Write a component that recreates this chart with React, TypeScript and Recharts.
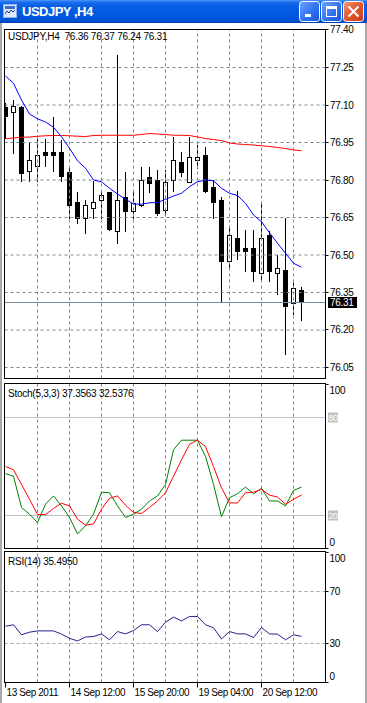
import React from 'react';
import { ComposedChart, Bar, Line, XAxis, YAxis, ReferenceLine } from 'recharts';

const FONT = "'Liberation Sans', Arial, sans-serif";

// ---------- data ----------
const candleIndex = [0, 1, 2, 3, 4, 5, 6, 7, 8, 9, 10, 11, 12, 13, 14, 15, 16, 17, 18, 19, 20, 21, 22, 23, 24, 25, 26, 27, 28, 29, 30, 31, 32, 33, 34, 35, 36, 37];
const opens = [77.093, 77.072, 77.092, 76.837, 76.857, 76.911, 76.911, 76.911, 76.831, 76.711, 76.647, 76.687, 76.719, 76.751, 76.597, 76.731, 76.677, 76.699, 76.812, 76.799, 76.68, 76.799, 76.871, 76.791, 76.879, 76.899, 76.771, 76.719, 76.477, 76.567, 76.527, 76.527, 76.427, 76.58, 76.427, 76.44, 76.307, 76.36];
const highs = [77.11, 77.12, 77.095, 76.953, 76.963, 76.963, 77.051, 76.96, 76.857, 76.751, 76.72, 76.797, 76.753, 76.753, 77.3, 76.831, 76.76, 76.852, 76.852, 76.84, 76.84, 76.972, 76.911, 76.972, 76.939, 76.931, 76.8, 76.731, 76.607, 76.757, 76.6, 76.6, 76.711, 76.597, 76.5, 76.647, 76.387, 76.37];
const lows = [76.967, 76.909, 76.797, 76.797, 76.797, 76.857, 76.837, 76.797, 76.647, 76.627, 76.587, 76.647, 76.647, 76.6, 76.547, 76.597, 76.647, 76.697, 76.751, 76.66, 76.664, 76.757, 76.817, 76.79, 76.847, 76.751, 76.647, 76.317, 76.443, 76.484, 76.437, 76.397, 76.397, 76.397, 76.344, 76.104, 76.264, 76.24];
const closes = [77.056, 77.097, 76.829, 76.879, 76.899, 76.899, 76.899, 76.817, 76.699, 76.647, 76.699, 76.711, 76.74, 76.604, 76.719, 76.677, 76.709, 76.799, 76.789, 76.667, 76.791, 76.879, 76.831, 76.891, 76.891, 76.757, 76.711, 76.477, 76.579, 76.517, 76.517, 76.437, 76.567, 76.437, 76.447, 76.297, 76.367, 76.31];
const maFast = [77.216, 77.187, 77.12, 77.064, 77.045, 77.032, 77.011, 76.973, 76.927, 76.877, 76.847, 76.8, 76.793, 76.767, 76.744, 76.723, 76.704, 76.703, 76.709, 76.71, 76.723, 76.736, 76.747, 76.773, 76.793, 76.8, 76.797, 76.767, 76.747, 76.738, 76.707, 76.66, 76.633, 76.589, 76.547, 76.507, 76.467, 76.451];
const maSlow = [76.965, 76.968, 76.971, 76.972, 76.975, 76.977, 76.978, 76.978, 76.977, 76.975, 76.974, 76.978, 76.979, 76.979, 76.979, 76.979, 76.979, 76.982, 76.986, 76.984, 76.982, 76.979, 76.979, 76.978, 76.972, 76.966, 76.962, 76.958, 76.948, 76.944, 76.942, 76.94, 76.937, 76.934, 76.93, 76.926, 76.92, 76.917];
const stochMain = [45.6, 44, 24.9, 20.8, 15.7, 26.9, 32, 25.9, 18.8, 8.7, 13.7, 20.8, 34.3, 33.9, 25.9, 18.8, 20.8, 23.9, 28.9, 32, 39, 60.2, 66.1, 66.1, 66.1, 56.2, 39, 19.2, 30.9, 33.3, 37.4, 33.3, 36.6, 28.9, 28.9, 25.9, 35.4, 37.36];
const stochSignal = [50, 48, 39, 29.9, 20.6, 20.6, 24.3, 27.5, 25.9, 17.8, 14.1, 14.8, 23.9, 30.5, 32, 26.3, 21.9, 21.2, 24.9, 28.9, 33.9, 44, 54.1, 63.6, 66.1, 62.2, 50, 36.9, 27.7, 27.7, 33.9, 34.3, 36, 32.5, 31.3, 26.9, 29.9, 32.54];
const rsiValues = [43.3, 44.4, 36.7, 38.7, 39.7, 39.7, 39.7, 37.2, 34, 32, 35, 35.4, 37.4, 32.8, 39.2, 37.4, 40, 44.4, 44.4, 39.2, 46.4, 50.3, 47.4, 50.8, 50.8, 44.4, 42.1, 33.5, 39.2, 37.4, 37.4, 34.6, 42.3, 37.4, 37.2, 32.8, 36.7, 35.5];

const priceTicks = [77.4, 77.25, 77.1, 76.95, 76.8, 76.65, 76.5, 76.35, 76.2, 76.05];
const lastClose = 76.31;
const stochTicks = [0, 20, 80, 100];
const stochLevels = [20, 80];
const rsiTicks = [0, 30, 70, 100];
const rsiLevels = [30, 70];
const gridIndex = [4, 8, 12, 16, 20, 24, 28, 32, 36];
const timeTickIndex = [0, 8, 16, 24, 32];
const timeTickLabels = ['13 Sep 2011', '14 Sep 12:00', '15 Sep 20:00', '19 Sep 04:00', '20 Sep 12:00'];

const headerMain = 'USDJPY,H4  76.36 76.37 76.24 76.31';
const headerStoch = 'Stoch(5,3,3) 37.3563 32.5376';
const headerRsi = 'RSI(14) 35.4950';
const windowTitle = 'USDJPY ,H4';

const GRID = '#778899';
const X_DOMAIN: [number, number] = [-0.125, 40];

// ---------- shapes ----------
function Candle(props: any) {
  const { x, y, width, height, payload } = props;
  if (!payload || height == null || isNaN(y)) return null;
  const { open, close, high, low } = payload;
  const span = high - low || 1;
  const toY = (v: number) => y + ((high - v) / span) * height;
  const cx = Math.round(x + width / 2 - 0.5) + 0.5;
  const top = Math.round(toY(Math.max(open, close))) + 0.5;
  let bot = Math.round(toY(Math.min(open, close))) + 0.5;
  if (bot - top < 1) bot = top + 1;
  const bull = close >= open;
  return (
    <g>
      <line x1={cx} x2={cx} y1={Math.round(y)} y2={Math.round(y + height) + 1} stroke="#000" strokeWidth={1} />
      <rect x={cx - 2} y={top} width={4} height={bot - top} fill={bull ? '#fff' : '#000'} stroke="#000" strokeWidth={1} />
    </g>
  );
}

const snap = (v: number) => Math.round(v - 0.5) + 0.5;

function PriceTick(props: any) {
  const { x, y, payload } = props;
  const v = payload.value as number;
  const yy = snap(y);
  if (Math.abs(v - lastClose) < 1e-9) {
    return (
      <g>
        <rect x={x + 2.5} y={yy - 5.5} width={29} height={11} fill="#000" />
        <text x={x + 4.5} y={yy + 3.7} fill="#fff" fontSize={10} fontFamily={FONT} letterSpacing={-0.3}>{v.toFixed(2)}</text>
      </g>
    );
  }
  return (
    <g>
      <line x1={x} x2={x + 3} y1={yy} y2={yy} stroke="#000" />
      <text x={x + 4.5} y={yy + 3.7} fill="#000" fontSize={10} fontFamily={FONT} letterSpacing={-0.3}>{v.toFixed(2)}</text>
    </g>
  );
}

function StochTick(props: any) {
  const { x, y, payload } = props;
  const v = payload.value as number;
  const yy = snap(y);
  if (v === 20 || v === 80) {
    return (
      <g>
        <rect x={x + 2.5} y={yy - 5} width={10} height={10} fill="#c0c0c0" />
        <text x={x + 3} y={yy + 3.3} fill="#fff" fontSize={9} fontFamily={FONT} letterSpacing={-0.4}>{v}</text>
      </g>
    );
  }
  const dy = v === 100 ? 6.3 : -5.8;
  return (
    <g>
      <line x1={x} x2={x + 3} y1={yy} y2={yy} stroke="#000" />
      <text x={x + 4} y={yy + dy + 3.6} fill="#000" fontSize={10} fontFamily={FONT} letterSpacing={-0.3}>{v}</text>
    </g>
  );
}

function RsiTick(props: any) {
  const { x, y, payload } = props;
  const v = payload.value as number;
  const yy = snap(y);
  const dy = v === 100 ? 5.5 : v === 0 ? -6.5 : 0;
  return (
    <g>
      <line x1={x} x2={x + 3} y1={yy} y2={yy} stroke="#000" />
      <text x={x + 4} y={yy + dy + 3.6} fill="#000" fontSize={10} fontFamily={FONT} letterSpacing={-0.3}>{v}</text>
    </g>
  );
}

function TimeTick(props: any) {
  const { x, y, payload } = props;
  const idx = timeTickIndex.indexOf(payload.value);
  const label = idx >= 0 ? timeTickLabels[idx] : '';
  const cx = snap(x);
  return (
    <g>
      <line x1={cx} x2={cx} y1={y + 0.5} y2={y + 5} stroke="#000" />
      <text x={cx + 1} y={y + 13.5} fill="#000" fontSize={10} fontFamily={FONT} letterSpacing={-0.4}>{label}</text>
    </g>
  );
}

// ---------- chrome ----------
function Chrome() {
  return (
    <svg width={367} height={703} style={{ position: 'absolute', left: 0, top: 0, pointerEvents: 'none' }}>
      <defs>
        <linearGradient id="tb" x1="0" y1="0" x2="0" y2="1">
          <stop offset="0%" stopColor="#4a94f5" />
          <stop offset="10%" stopColor="#1a6cf0" />
          <stop offset="25%" stopColor="#0a5fe2" />
          <stop offset="70%" stopColor="#0058e2" />
          <stop offset="92%" stopColor="#0050d2" />
          <stop offset="100%" stopColor="#003fae" />
        </linearGradient>
        <linearGradient id="btn" x1="0" y1="0" x2="1" y2="1">
          <stop offset="0%" stopColor="#6ea2ff" />
          <stop offset="60%" stopColor="#2e6ff0" />
          <stop offset="100%" stopColor="#1a55d8" />
        </linearGradient>
        <linearGradient id="cls" x1="0" y1="0" x2="1" y2="1">
          <stop offset="0%" stopColor="#f09a7a" />
          <stop offset="50%" stopColor="#e0582f" />
          <stop offset="100%" stopColor="#c2391a" />
        </linearGradient>
      </defs>
      {/* window edges */}
      <rect x={0} y={23} width={2} height={680} fill="#a8a8a8" />
      <rect x={365} y={23} width={2} height={680} fill="#a8a8a8" />
      {/* title bar */}
      <rect x={0} y={0} width={367} height={23} fill="url(#tb)" />
      <rect x={3.5} y={4.5} width={13} height={13} fill="#dfe9fb" stroke="#8fb0e8" />
      <rect x={5} y={6} width={10} height={3} fill="#3a6fd0" />
      <polyline points="5,14 7,11 9,13 11,10 13,12 15,10" fill="none" stroke="#1b3d8a" strokeWidth={1} />
      <text x={22} y={16} fill="#fff" fontSize={13} fontWeight="bold" fontFamily={FONT} letterSpacing={-0.5}>{windowTitle}</text>
      {/* buttons */}
      <rect x={299.5} y={1.5} width={20} height={20} rx={3} fill="url(#btn)" stroke="#fff" />
      <rect x={305} y={14} width={6} height={3} fill="#fff" />
      <rect x={321.5} y={1.5} width={20} height={20} rx={3} fill="url(#btn)" stroke="#fff" />
      <rect x={326.5} y={6.5} width={10} height={10} fill="none" stroke="#fff" />
      <rect x={326} y={6} width={11} height={3} fill="#fff" />
      <rect x={343.5} y={1.5} width={20} height={20} rx={3} fill="url(#cls)" stroke="#fff" />
      <line x1={348.5} y1={6.5} x2={358.5} y2={16.5} stroke="#fff" strokeWidth={2} />
      <line x1={358.5} y1={6.5} x2={348.5} y2={16.5} stroke="#fff" strokeWidth={2} />
      {/* panel frames */}
      <rect x={4.5} y={29.5} width={321} height={349} fill="none" stroke="#000" />
      <rect x={4.5} y={383.5} width={321} height={165} fill="none" stroke="#000" />
      <rect x={4.5} y={551.5} width={321} height={131} fill="none" stroke="#000" />
      {/* headers */}
      <text x={8} y={40} fontSize={10} fontFamily={FONT} fill="#000" style={{ whiteSpace: 'pre' }} letterSpacing={-0.25}>{headerMain}</text>
      <text x={8} y={397} fontSize={10} fontFamily={FONT} fill="#000" letterSpacing={-0.25}>{headerStoch}</text>
      <text x={8} y={565} fontSize={10} fontFamily={FONT} fill="#000" letterSpacing={-0.25}>{headerRsi}</text>
    </svg>
  );
}

export default function App() {
  const rows = candleIndex.map((k, i) => ({
    k,
    range: [lows[i], highs[i]],
    open: opens[i],
    high: highs[i],
    low: lows[i],
    close: closes[i],
    maFast: maFast[i],
    maSlow: maSlow[i],
    stochK: stochMain[i],
    stochD: stochSignal[i],
    rsi: rsiValues[i],
  }));

  const vGrid = (prefix: string) =>
    gridIndex.map((g) => <ReferenceLine key={prefix + g} x={g} stroke={GRID} strokeDasharray="3 3" />);

  return (
    <div style={{ position: 'absolute', left: 0, top: 0, width: 367, height: 703, background: '#fff', overflow: 'hidden' }}>
      {/* main price panel */}
      <div style={{ position: 'absolute', left: 0, top: 0 }}>
        <ComposedChart width={367} height={400} data={rows} margin={{ top: 29.5, right: 0, bottom: 21.5, left: 4.5 }}>
          <XAxis dataKey="k" type="number" domain={X_DOMAIN} allowDataOverflow hide />
          <YAxis
            orientation="right"
            width={41.5}
            domain={[76.006, 77.402]}
            allowDataOverflow
            ticks={[...priceTicks, lastClose]}
            interval={0}
            tick={<PriceTick />}
            tickLine={false}
            axisLine={false}
            tickSize={0}
            tickMargin={0}
          />
          {vGrid('m')}
          {priceTicks.slice(1).map((p) => (
            <ReferenceLine key={'h' + p} y={p} stroke={GRID} strokeDasharray="3 3" />
          ))}
          <ReferenceLine y={lastClose} stroke={GRID} />
          <Bar dataKey="range" barSize={5} shape={(p: any) => <Candle {...p} />} isAnimationActive={false} />
          <Line dataKey="maSlow" stroke="#ff0000" strokeWidth={1} dot={false} activeDot={false} isAnimationActive={false} />
          <Line dataKey="maFast" stroke="#0000ff" strokeWidth={1} dot={false} activeDot={false} isAnimationActive={false} />
        </ComposedChart>
      </div>

      {/* stochastic panel */}
      <div style={{ position: 'absolute', left: 0, top: 378 }}>
        <ComposedChart width={367} height={180} data={rows} margin={{ top: 5.5, right: 0, bottom: 9.5, left: 4.5 }}>
          <XAxis dataKey="k" type="number" domain={X_DOMAIN} allowDataOverflow hide />
          <YAxis
            orientation="right"
            width={41.5}
            domain={[-0.204, 100.82]}
            allowDataOverflow
            ticks={stochTicks}
            interval={0}
            tick={<StochTick />}
            tickLine={false}
            axisLine={false}
            tickSize={0}
            tickMargin={0}
          />
          {vGrid('s')}
          {stochLevels.map((l) => (
            <ReferenceLine key={'sl' + l} y={l} stroke="#c0c0c0" />
          ))}
          <Line dataKey="stochK" stroke="#008000" strokeWidth={1} dot={false} activeDot={false} isAnimationActive={false} />
          <Line dataKey="stochD" stroke="#ff0000" strokeWidth={1} dot={false} activeDot={false} isAnimationActive={false} />
        </ComposedChart>
      </div>

      {/* RSI panel */}
      <div style={{ position: 'absolute', left: 0, top: 545 }}>
        <ComposedChart width={367} height={158} data={rows} margin={{ top: 6.5, right: 0, bottom: 0, left: 4.5 }}>
          <XAxis
            dataKey="k"
            type="number"
            domain={X_DOMAIN}
            allowDataOverflow
            ticks={timeTickIndex}
            interval={0}
            height={20.5}
            tick={<TimeTick />}
            tickLine={false}
            axisLine={false}
            tickSize={0}
            tickMargin={0}
          />
          <YAxis
            orientation="right"
            width={41.5}
            domain={[0, 100.77]}
            allowDataOverflow
            ticks={rsiTicks}
            interval={0}
            tick={<RsiTick />}
            tickLine={false}
            axisLine={false}
            tickSize={0}
            tickMargin={0}
          />
          {vGrid('r')}
          {rsiLevels.map((l) => (
            <ReferenceLine key={'rl' + l} y={l} stroke="#a0a0a0" strokeDasharray="3 3" />
          ))}
          <Line dataKey="rsi" stroke="#22228a" strokeWidth={1} dot={false} activeDot={false} isAnimationActive={false} />
        </ComposedChart>
      </div>

      <Chrome />
    </div>
  );
}
